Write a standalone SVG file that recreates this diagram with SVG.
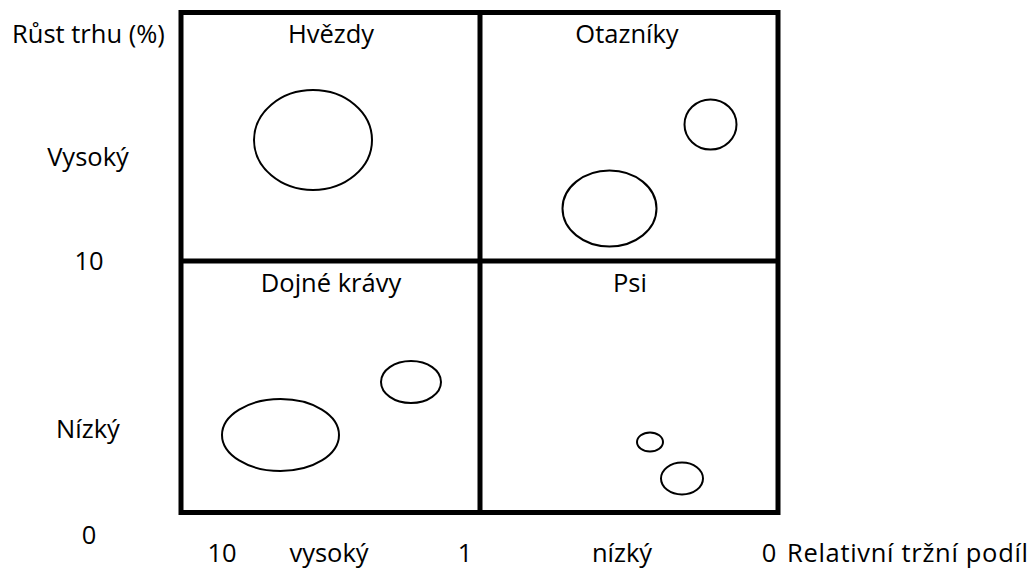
<svg xmlns="http://www.w3.org/2000/svg" width="1034" height="571" viewBox="0 0 1034 571">
<style>
text{font-family:"Open Sans","Liberation Sans",sans-serif;font-size:25.5px;fill:#000}
.m{text-anchor:middle}
.grid{fill:none;stroke:#000;stroke-width:5}
.b{fill:none;stroke:#000;stroke-width:2}
</style>
<rect width="1034" height="571" fill="#fff"/>
<g id="axis-labels">
<text x="12" y="43">Růst trhu (%)</text>
<text class="m" x="88" y="166">Vysoký</text>
<text class="m" x="89" y="270">10</text>
<text class="m" x="88" y="438">Nízký</text>
<text class="m" x="89" y="544">0</text>
<text class="m" x="222" y="562">10</text>
<text class="m" x="329" y="562">vysoký</text>
<text class="m" x="465" y="562">1</text>
<text class="m" x="622" y="562">nízký</text>
<text class="m" x="769" y="562">0</text>
<text x="787" y="562" textLength="241" lengthAdjust="spacing">Relativní tržní podíl</text>
</g>
<g id="grid">
<rect class="grid" x="181" y="12.5" width="597" height="500"/>
<line class="grid" x1="480" y1="12.5" x2="480" y2="512.5"/>
<line class="grid" x1="181" y1="261" x2="778" y2="261"/>
</g>
<g id="hvezdy">
<text class="m" x="331" y="43">Hvězdy</text>
<ellipse class="b" cx="313" cy="140" rx="59" ry="50"/>
</g>
<g id="otazniky">
<text class="m" x="627" y="43">Otazníky</text>
<ellipse class="b" cx="710.5" cy="124.5" rx="26" ry="25"/>
<ellipse class="b" cx="609.5" cy="208.5" rx="47" ry="38"/>
</g>
<g id="dojne-kravy">
<text class="m" x="331" y="292">Dojné krávy</text>
<ellipse class="b" cx="411" cy="382" rx="30" ry="21"/>
<ellipse class="b" cx="280.5" cy="435" rx="58.5" ry="36"/>
</g>
<g id="psi">
<text class="m" x="630" y="292">Psi</text>
<ellipse class="b" cx="650" cy="442" rx="13" ry="9.5"/>
<ellipse class="b" cx="682" cy="478.5" rx="21" ry="16"/>
</g>
</svg>
